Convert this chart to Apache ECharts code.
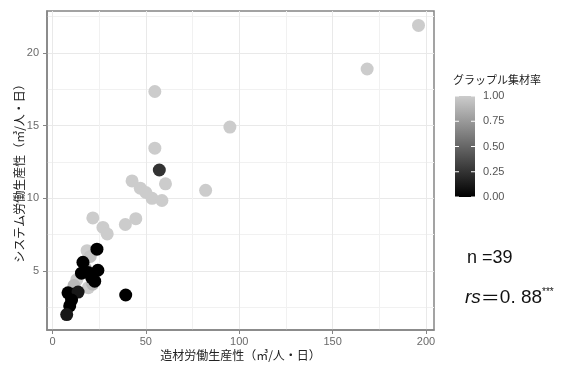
<!DOCTYPE html>
<html>
<head>
<meta charset="utf-8">
<script src="https://cdn.jsdelivr.net/npm/echarts@6/dist/echarts.min.js"></script>
<style>
  html, body { margin: 0; padding: 0; background: #ffffff; }
  #chart { width: 571px; height: 365px; }
</style>
</head>
<body>
<div id="chart"></div>
<script>
// 造材労働生産性 (x), システム労働生産性 (y), グラップル集材率 (colour)
const xValues = [196, 168.5, 95, 82, 54.8, 54.8, 60.5, 42.6, 47, 50, 53.3, 58.6, 39, 44.6, 21.6, 27, 29.3, 57.2,
                 18.5, 20.2, 13, 19.2, 21.5, 17.5, 11.5,
                 23.8, 16.3, 24.3, 15.5, 21, 19, 22.6, 8.3, 10.6, 13.7, 10.2, 9.2, 39.2, 7.6];
const yValues = [21.9, 18.9, 14.9, 10.55, 17.35, 13.45, 11.0, 11.2, 10.7, 10.4, 10.0, 9.85, 8.2, 8.6, 8.65, 8.0, 7.55, 11.95,
                 6.4, 6.0, 4.4, 3.85, 4.1, 5.2, 4.0,
                 6.5, 5.6, 5.05, 4.85, 4.55, 4.9, 4.3, 3.5, 3.4, 3.55, 3.0, 2.6, 3.35, 2.0];
const grappleRates = [1, 1, 1, 1, 1, 1, 1, 1, 1, 1, 1, 1, 1, 1, 1, 1, 1, 0.25,
                      1, 0.95, 1, 1, 0.9, 0.85, 0.9,
                      0, 0, 0, 0, 0, 0, 0, 0, 0, 0.12, 0, 0, 0, 0.12];

const xTicks = [0, 50, 100, 150, 200];
const xMinor = [25, 75, 125, 175];
const yTicks = [5, 10, 15, 20];
const yMinor = [2.5, 7.5, 12.5, 17.5, 22.5];
const legendTicks = [0, 0.25, 0.5, 0.75, 1];
const legendLabels = ['0.00', '0.25', '0.50', '0.75', '1.00'];

const xRange = [-2.95, 204.3];
const yRange = [0.94, 22.89];
const lowColor = '#000000';
const highColor = '#cccccc';

const points = xValues.map((x, i) => [x, yValues[i], grappleRates[i]]);

const axisGrey = '#858585';
const labelGrey = '#6a6a6a';
const majorGrid = '#e9e9e9';
const minorGrid = '#f1f1f1';
const jpFont = '"Noto Sans CJK JP", sans-serif';
const numFont = '"Liberation Sans", Arial, sans-serif';

// colour bar legend
const bar = { x: 455, y: 96, w: 20, h: 101 };
const legendGraphics = [
  {
    type: 'text', left: 453, top: 74,
    style: { text: 'グラップル集材率', fontSize: 11, fontFamily: jpFont, fill: '#222' }
  },
  {
    type: 'rect', shape: { x: bar.x, y: bar.y, width: bar.w, height: bar.h },
    style: {
      fill: new echarts.graphic.LinearGradient(0, 0, 0, 1, [
        { offset: 0, color: highColor },
        { offset: 1, color: lowColor }
      ])
    }
  }
];
legendTicks.forEach((t, i) => {
  const yy = bar.y + bar.h - t * bar.h;
  legendGraphics.push(
    { type: 'line', shape: { x1: bar.x, y1: yy, x2: bar.x + 4, y2: yy }, style: { stroke: '#ffffff', lineWidth: 1 } },
    { type: 'line', shape: { x1: bar.x + bar.w - 4, y1: yy, x2: bar.x + bar.w, y2: yy }, style: { stroke: '#ffffff', lineWidth: 1 } },
    {
      type: 'text', x: 483, y: yy,
      style: { text: legendLabels[i], fontSize: 11, fontFamily: numFont, fill: '#555', verticalAlign: 'middle' }
    }
  );
});

// statistics
const statGraphics = [
  {
    type: 'text', x: 467, y: 258,
    style: { text: 'n =39', fontSize: 18, fontFamily: numFont, fill: '#111', verticalAlign: 'middle' }
  },
  {
    type: 'text', x: 465, y: 298,
    style: {
      text: '{i|rs}{e|＝}{n|0. 88}{s|***}',
      verticalAlign: 'middle',
      rich: {
        i: { fontSize: 19, fontStyle: 'italic', fontFamily: numFont, fill: '#111', lineHeight: 22 },
        e: { fontSize: 19, fontFamily: jpFont, fill: '#111', lineHeight: 22 },
        n: { fontSize: 19, fontFamily: numFont, fill: '#111', lineHeight: 22 },
        s: { fontSize: 10, fontFamily: numFont, fill: '#111', verticalAlign: 'top', lineHeight: 22 }
      }
    }
  }
];

const chart = echarts.init(document.getElementById('chart'), null, { renderer: 'canvas' });
chart.setOption({
  animation: false,
  backgroundColor: '#ffffff',
  grid: {
    left: 47, right: 137, top: 11, bottom: 35,
    outerBoundsMode: 'none', containLabel: false,
    show: true, backgroundColor: '#ffffff', borderColor: axisGrey, borderWidth: 1.5
  },
  xAxis: [
    {
      type: 'value', min: xRange[0], max: xRange[1], position: 'bottom',
      name: '造材労働生産性（㎥/人・日）', nameLocation: 'middle', nameGap: 19, nameMoveOverlap: false,
      nameTextStyle: { fontSize: 12, fontFamily: jpFont, color: '#222' },
      axisLine: { show: true, onZero: false, lineStyle: { color: axisGrey, width: 1.5 } },
      axisTick: { show: true, customValues: xTicks, length: 4, lineStyle: { color: axisGrey } },
      axisLabel: { customValues: xTicks, color: labelGrey, fontSize: 11, fontFamily: numFont, margin: 6 },
      splitLine: { show: true, lineStyle: { color: majorGrid, width: 1 } }
    },
    {
      type: 'value', min: xRange[0], max: xRange[1], position: 'top',
      axisLine: { show: false },
      axisTick: { show: false, customValues: xMinor },
      axisLabel: { show: false },
      splitLine: { show: true, lineStyle: { color: minorGrid, width: 1 } }
    }
  ],
  yAxis: [
    {
      type: 'value', min: yRange[0], max: yRange[1], position: 'left',
      name: 'システム労働生産性（㎥/人・日）', nameLocation: 'middle', nameGap: 22, nameMoveOverlap: false,
      nameTextStyle: { fontSize: 12, fontFamily: jpFont, color: '#222' },
      axisLine: { show: true, onZero: false, lineStyle: { color: axisGrey, width: 1.5 } },
      axisTick: { show: true, customValues: yTicks, length: 4, lineStyle: { color: axisGrey } },
      axisLabel: { customValues: yTicks, color: labelGrey, fontSize: 11, fontFamily: numFont, margin: 8 },
      splitLine: { show: true, lineStyle: { color: majorGrid, width: 1 } }
    },
    {
      type: 'value', min: yRange[0], max: yRange[1], position: 'right',
      axisLine: { show: false },
      axisTick: { show: false, customValues: yMinor },
      axisLabel: { show: false },
      splitLine: { show: true, lineStyle: { color: minorGrid, width: 1 } }
    }
  ],
  visualMap: {
    show: false, type: 'continuous', min: 0, max: 1, dimension: 2, seriesIndex: 0,
    inRange: { color: [lowColor, highColor] }
  },
  series: [
    {
      type: 'scatter', xAxisIndex: 0, yAxisIndex: 0,
      data: points, symbol: 'circle', symbolSize: 13,
      itemStyle: { opacity: 1 }, silent: true
    }
  ],
  graphic: legendGraphics.concat(statGraphics)
});
</script>
</body>
</html>
